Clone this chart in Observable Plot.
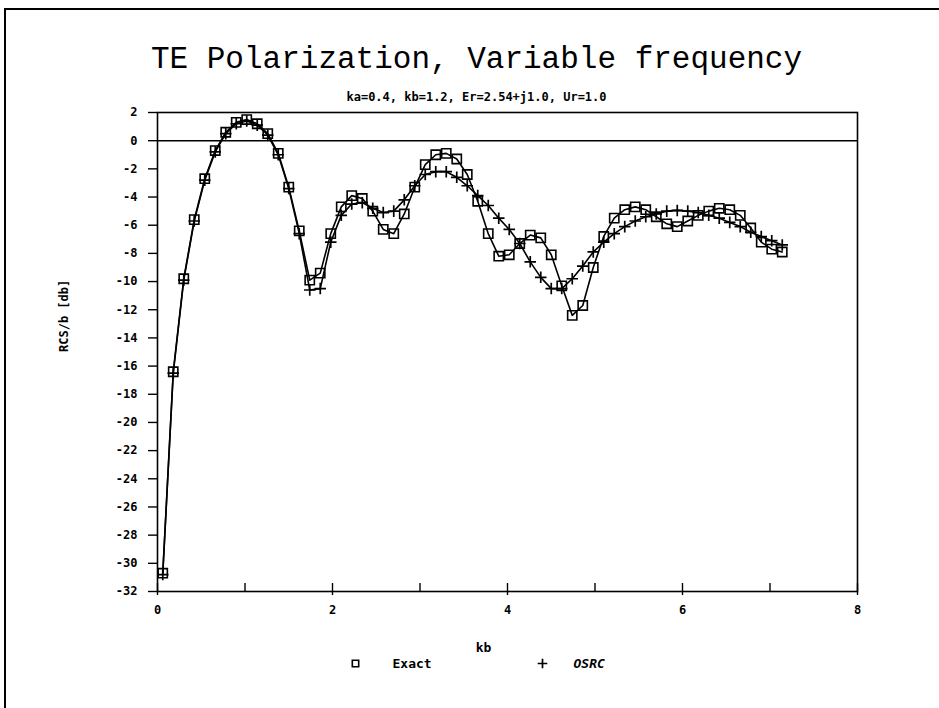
<!DOCTYPE html>
<html><head><meta charset="utf-8">
<script src="https://cdn.jsdelivr.net/npm/d3@7"></script>
<script src="https://cdn.jsdelivr.net/npm/@observablehq/plot@0.6"></script>
<style>
html,body{margin:0;padding:0;background:#fff;}
#wrap{position:relative;width:939px;height:708px;overflow:hidden;background:#fff;}
#border{position:absolute;left:4px;top:8px;width:960px;height:720px;border-left:2px solid #000;border-top:2px solid #000;}
#chart{position:absolute;left:0;top:0;}
</style></head>
<body><div id="wrap"><div id="border"></div><div id="chart"></div></div>
<script>
const title = "TE Polarization, Variable frequency";
const subtitle = "ka=0.4, kb=1.2, Er=2.54+j1.0, Ur=1.0";
const xLabel = "kb";
const yLabel = "RCS/b [db]";
const seriesNames = ["Exact", "OSRC"];

const kb = [0.06,0.18,0.30,0.42,0.54,0.66,0.78,0.90,1.02,1.14,1.26,1.38,1.50,1.62,1.74,1.86,1.98,2.10,2.22,2.34,
            2.46,2.58,2.70,2.82,2.94,3.06,3.18,3.30,3.42,3.54,3.66,3.78,3.90,4.02,4.14,4.26,4.38,4.50,4.62,4.74,
            4.86,4.98,5.10,5.22,5.34,5.46,5.58,5.70,5.82,5.94,6.06,6.18,6.30,6.42,6.54,6.66,6.78,6.90,7.02,7.14];
const exact = [-30.7,-16.4,-9.8,-5.6,-2.7,-0.7,0.6,1.3,1.5,1.2,0.5,-0.9,-3.3,-6.4,-9.9,-9.4,-6.6,-4.7,-3.9,-4.1,
               -5.0,-6.3,-6.6,-5.2,-3.3,-1.7,-1.0,-0.9,-1.3,-2.4,-4.3,-6.6,-8.2,-8.1,-7.3,-6.7,-6.9,-8.1,-10.3,-12.4,
               -11.7,-9.0,-6.8,-5.5,-4.9,-4.7,-4.9,-5.4,-5.9,-6.1,-5.7,-5.3,-5.0,-4.8,-4.9,-5.3,-6.2,-7.2,-7.7,-7.9];
const osrc = [-30.8,-16.5,-9.9,-5.7,-2.8,-0.8,0.5,1.2,1.4,1.1,0.4,-1.0,-3.4,-6.6,-10.6,-10.5,-7.2,-5.3,-4.5,-4.4,
              -4.8,-5.1,-5.0,-4.2,-3.2,-2.4,-2.2,-2.2,-2.6,-3.2,-3.9,-4.6,-5.5,-6.3,-7.3,-8.6,-9.7,-10.5,-10.5,-9.8,
              -8.9,-7.9,-7.2,-6.6,-6.1,-5.7,-5.4,-5.2,-5.0,-4.95,-5.0,-5.1,-5.3,-5.5,-5.8,-6.1,-6.5,-6.8,-7.1,-7.4];

const xTickLabels = [0, 2, 4, 6, 8];
const xTickMarks = [0, 1, 2, 3, 4, 5, 6, 7, 8];
const yTicks = [2,0,-2,-4,-6,-8,-10,-12,-14,-16,-18,-20,-22,-24,-26,-28,-30,-32];

const exactData = kb.map((x, i) => ({x, y: exact[i]}));
const osrcData = kb.map((x, i) => ({x, y: osrc[i]}));

const W = 939, H = 708, mL = 157, mR = 82, mT = 112, mB = 117;
const frameH = H - mT - mB;
const cx = mL + (W - mL - mR) / 2;

const plot = Plot.plot({
  width: W, height: H,
  marginLeft: mL, marginRight: mR, marginTop: mT, marginBottom: mB,
  style: {fontFamily: "'DejaVu Sans Mono', monospace", fontSize: "12px", fontWeight: "bold", color: "#000", background: "transparent"},
  x: {domain: [0, 8]},
  y: {domain: [-32, 2]},
  marks: [
    Plot.frame({stroke: "#000", strokeWidth: 1.6}),
    Plot.ruleY([0], {stroke: "#000", strokeWidth: 1.4}),
    Plot.ruleX(xTickMarks, {x: d => d, insetTop: frameH - 8, stroke: "#000", strokeWidth: 1.4}),
    Plot.axisX({ticks: xTickLabels, tickSize: 4, tickPadding: 10, tickFormat: d => String(d), label: null, strokeWidth: 1.4}),
    Plot.axisY({ticks: yTicks, tickSize: 9, tickPadding: 11, tickFormat: d => String(d), label: null, strokeWidth: 1.4}),
    Plot.line(exactData, {x: "x", y: "y", stroke: "#000", strokeWidth: 1.6}),
    Plot.line(osrcData, {x: "x", y: "y", stroke: "#000", strokeWidth: 1.6}),
    Plot.dot(exactData, {x: "x", y: "y", symbol: "square", r: 5.2, stroke: "#000", strokeWidth: 1.6, fill: "none"}),
    Plot.dot(osrcData, {x: "x", y: "y", symbol: "plus", r: 3.8, stroke: "#000", strokeWidth: 1.7}),
    // titles
    Plot.text([title], {text: d => d, frameAnchor: "top", dx: 476 - cx, dy: -54, lineAnchor: "middle",
      fontFamily: "'Liberation Mono', monospace", fontSize: 31, fontWeight: "normal"}),
    Plot.text([subtitle], {text: d => d, frameAnchor: "top", dx: 476 - cx, dy: -15, lineAnchor: "middle",
      fontSize: 12, fontWeight: "bold"}),
    Plot.text([xLabel], {text: d => d, frameAnchor: "bottom", dx: 483 - cx, dy: 56, lineAnchor: "middle", fontSize: 13}),
    Plot.text([yLabel], {text: d => d, frameAnchor: "left", dx: 64 - mL, rotate: -90, lineAnchor: "middle", fontSize: 12}),
    // legend
    Plot.dot([seriesNames[0]], {frameAnchor: "bottom", dx: 355 - cx, dy: 72, symbol: "square", r: 3.6, stroke: "#000", strokeWidth: 1.6, fill: "none"}),
    Plot.text([seriesNames[0]], {text: d => d, frameAnchor: "bottom", dx: 392 - cx, dy: 72, textAnchor: "start", lineAnchor: "middle", fontSize: 13}),
    Plot.dot([seriesNames[1]], {frameAnchor: "bottom", dx: 542 - cx, dy: 72, symbol: "plus", r: 3.2, stroke: "#000", strokeWidth: 1.7}),
    Plot.text([seriesNames[1]], {text: d => d, frameAnchor: "bottom", dx: 573 - cx, dy: 72, textAnchor: "start", lineAnchor: "middle", fontSize: 13, fontStyle: "italic"})
  ]
});
document.getElementById("chart").appendChild(plot);
</script>
</body></html>
